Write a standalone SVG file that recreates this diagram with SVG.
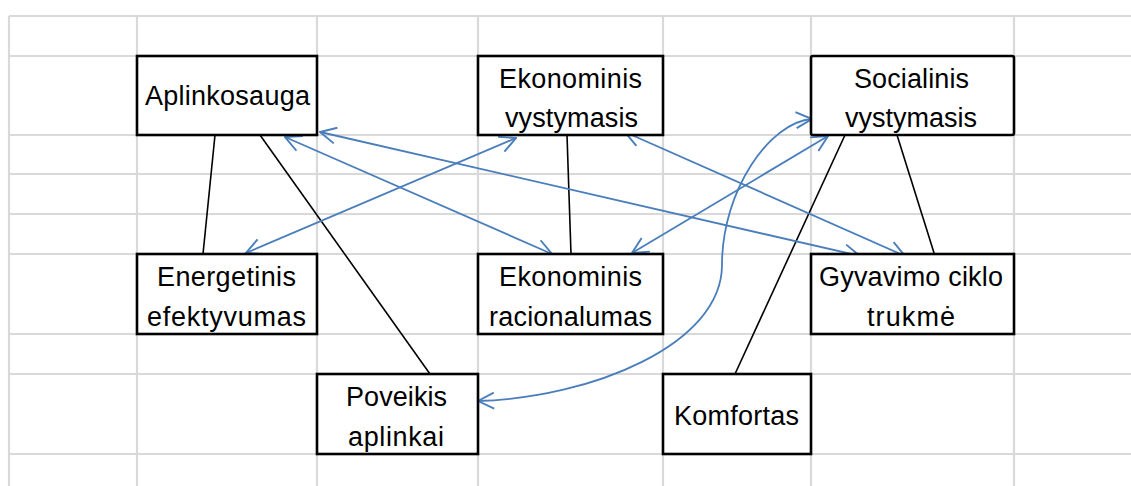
<svg xmlns="http://www.w3.org/2000/svg" width="1131" height="486" viewBox="0 0 1131 486">
<style>
.grid line{stroke:#d9d9d9;stroke-width:2.2}
.box rect{fill:#fff;stroke:#000;stroke-width:2.6}
.box text{font-family:"Liberation Sans",Arial,sans-serif;font-size:27px;fill:#000;text-anchor:middle}
.blk{stroke:#000;stroke-width:1.6;fill:none}
.blu{stroke:#4a7ebb;stroke-width:1.8;fill:none;marker-start:url(#ah);marker-end:url(#ah)}
</style>
<defs>
<marker id="ah" viewBox="0 0 20 20" refX="19" refY="10" markerWidth="20" markerHeight="20" markerUnits="userSpaceOnUse" orient="auto-start-reverse">
<path d="M3,2 L19,10 L3,18" fill="none" stroke="#4a7ebb" stroke-width="1.9"/>
</marker>
</defs>
<rect x="0" y="0" width="1131" height="486" fill="#fff"/>
<g class="grid">
<line x1="9" y1="16" x2="9" y2="486"/>
<line x1="137" y1="16" x2="137" y2="486"/>
<line x1="317" y1="16" x2="317" y2="486"/>
<line x1="478" y1="16" x2="478" y2="486"/>
<line x1="663" y1="16" x2="663" y2="486"/>
<line x1="811" y1="16" x2="811" y2="486"/>
<line x1="1014" y1="16" x2="1014" y2="486"/>
<line x1="9" y1="16" x2="1131" y2="16"/>
<line x1="9" y1="56" x2="1131" y2="56"/>
<line x1="9" y1="135" x2="1131" y2="135"/>
<line x1="9" y1="174" x2="1131" y2="174"/>
<line x1="9" y1="214" x2="1131" y2="214"/>
<line x1="9" y1="254" x2="1131" y2="254"/>
<line x1="9" y1="334" x2="1131" y2="334"/>
<line x1="9" y1="374" x2="1131" y2="374"/>
<line x1="9" y1="454" x2="1131" y2="454"/>
</g>
<g id="connectors">
<line class="blk" x1="215" y1="135" x2="203" y2="254"/>
<line class="blk" x1="260" y1="135" x2="430" y2="374"/>
<line class="blk" x1="567" y1="135" x2="571" y2="254"/>
<line class="blk" x1="845" y1="135" x2="735" y2="374"/>
<line class="blk" x1="897" y1="135" x2="935" y2="256"/>
<path class="blu" d="M246,253 L516,138"/>
<path class="blu" d="M285,137 L552,254"/>
<path class="blu" d="M320,132 L860,256"/>
<path class="blu" d="M625,132 L905,256"/>
<path class="blu" d="M828,136 L632,253"/>
<path class="blu" d="M812,119 C770,122 722,190 722,265 C722,345 590,398 478,401"/>
</g>
<g id="aplinkosauga" class="box">
<rect x="137" y="56" width="180" height="79"/>
<text x="227.5" y="105" textLength="165">Aplinkosauga</text>
</g>
<g id="ekonominis-vystymasis" class="box">
<rect x="478" y="56" width="185" height="79"/>
<text x="570.5" y="88" textLength="143">Ekonominis</text>
<text x="571.5" y="127" textLength="133">vystymasis</text>
</g>
<g id="socialinis-vystymasis" class="box">
<rect x="811" y="56" width="203" height="79" rx="2"/>
<text x="911.5" y="88" textLength="115">Socialinis</text>
<text x="911" y="127" textLength="132">vystymasis</text>
</g>
<g id="energetinis-efektyvumas" class="box">
<rect x="137" y="254" width="180" height="80"/>
<text x="226.5" y="286" textLength="139">Energetinis</text>
<text x="226.5" y="326" textLength="159">efektyvumas</text>
</g>
<g id="ekonominis-racionalumas" class="box">
<rect x="478" y="254" width="185" height="80"/>
<text x="570.5" y="286" textLength="143">Ekonominis</text>
<text x="570.5" y="326" textLength="163">racionalumas</text>
</g>
<g id="gyvavimo-ciklo-trukme" class="box">
<rect x="811" y="254" width="203" height="80"/>
<text x="911" y="286" textLength="184">Gyvavimo ciklo</text>
<text x="911" y="326" textLength="88">trukmė</text>
</g>
<g id="poveikis-aplinkai" class="box">
<rect x="317" y="374" width="161" height="80"/>
<text x="396.5" y="406" textLength="101">Poveikis</text>
<text x="396" y="446" textLength="96">aplinkai</text>
</g>
<g id="komfortas" class="box">
<rect x="663" y="374" width="148" height="80"/>
<text x="736.5" y="425" textLength="125">Komfortas</text>
</g>
</svg>
